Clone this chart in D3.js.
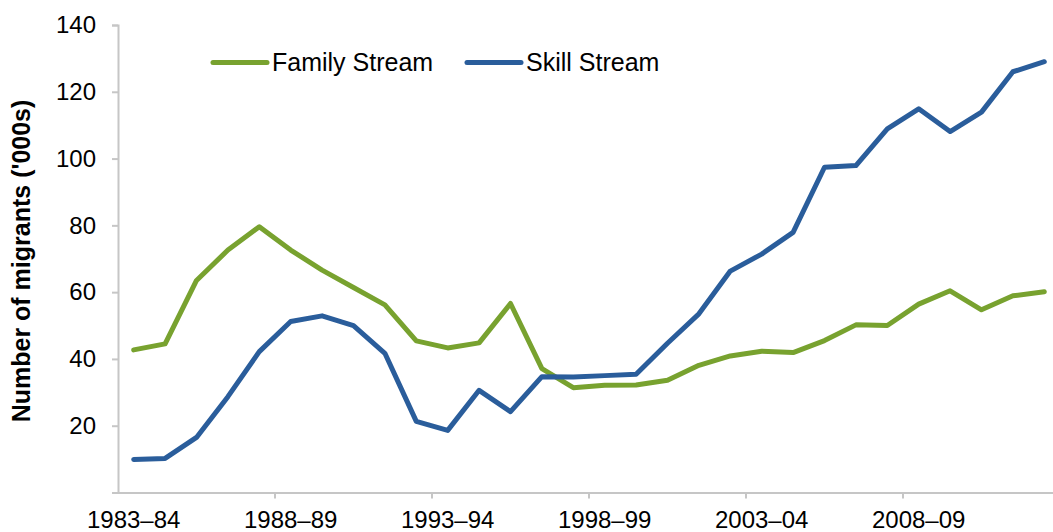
<!DOCTYPE html>
<html>
<head>
<meta charset="utf-8">
<script src="https://cdn.jsdelivr.net/npm/d3@7"></script>
<style>
  body { margin: 0; background: #fff; }
  svg { display: block; font-family: "Liberation Sans", Arial, sans-serif; }
</style>
</head>
<body>
<svg id="chart"></svg>
<script>
// financial years, one per point
const years = [
  "1983–84", "1984–85", "1985–86", "1986–87", "1987–88",
  "1988–89", "1989–90", "1990–91", "1991–92", "1992–93",
  "1993–94", "1994–95", "1995–96", "1996–97", "1997–98",
  "1998–99", "1999–00", "2000–01", "2001–02", "2002–03",
  "2003–04", "2004–05", "2005–06", "2006–07", "2007–08",
  "2008–09", "2009–10", "2010–11", "2011–12", "2012–13"
];

// thousands of migrants
const familyStream = [
  42.7, 44.5, 63.5, 72.6, 79.6, 72.6, 66.6, 61.4, 56.2, 45.4,
  43.3, 44.8, 56.6, 37.1, 31.4, 32.1, 32.2, 33.6, 38.1, 40.9,
  42.3, 41.9, 45.5, 50.2, 50.0, 56.4, 60.4, 54.7, 58.9, 60.1
];
const skillStream = [
  9.9, 10.2, 16.5, 28.7, 42.2, 51.2, 52.9, 50.0, 41.7, 21.3,
  18.6, 30.6, 24.2, 34.7, 34.6, 35.0, 35.4, 44.7, 53.5, 66.3,
  71.4, 77.9, 97.4, 97.9, 108.9, 114.9, 108.1, 113.9, 126.0, 129.0
];

const xLabels = ["1983–84", "1988–89", "1993–94", "1998–99", "2003–04", "2008–09"];
const yTicks = [0, 20, 40, 60, 80, 100, 120, 140];

const width = 1053;
const height = 532;
const plotLeft = 118, plotRight = 1060, plotTop = 25, plotBottom = 492.5;
const axisColor = "#c6c6c6";

const series = [
  { name: "Family Stream", values: familyStream, color: "#78a22f" },
  { name: "Skill Stream", values: skillStream, color: "#2a5d9b" }
];

const svg = d3.select("#chart").attr("width", width).attr("height", height);

const x = d3.scaleBand().domain(years).range([plotLeft, plotRight]).paddingInner(0).paddingOuter(0);
const y = d3.scaleLinear().domain([0, 140]).range([plotBottom, plotTop]);

// Y axis
const yAxis = svg.append("g")
  .attr("transform", `translate(${plotLeft},0)`)
  .call(d3.axisLeft(y).tickValues(yTicks).tickSize(6).tickPadding(16)
    .tickFormat(d => d === 0 ? "" : d));
yAxis.select(".domain").attr("stroke", axisColor).attr("stroke-width", 2);
yAxis.selectAll(".tick line").attr("stroke", axisColor).attr("stroke-width", 2);
yAxis.selectAll(".tick text").attr("font-size", 24).attr("fill", "#000")
  .attr("font-family", "Liberation Sans, Arial, sans-serif");

// X axis: labels at category centres, ticks at left edge of every 5th category
const xAxis = svg.append("g")
  .attr("transform", `translate(0,${plotBottom})`)
  .call(d3.axisBottom(x).tickValues(xLabels).tickSize(0).tickPadding(18));
xAxis.select(".domain").attr("stroke", axisColor).attr("stroke-width", 2);
xAxis.selectAll(".tick text").attr("font-size", 24).attr("fill", "#000")
  .attr("font-family", "Liberation Sans, Arial, sans-serif");
xAxis.selectAll(".tickmark")
  .data(xLabels.slice(1))
  .enter()
  .append("line")
  .attr("x1", d => x(d)).attr("x2", d => x(d))
  .attr("y1", 0).attr("y2", 6)
  .attr("stroke", axisColor).attr("stroke-width", 2);

// Y title
svg.append("text")
  .attr("transform", "translate(30,261) rotate(-90)")
  .attr("text-anchor", "middle")
  .attr("font-size", 25)
  .attr("font-weight", "bold")
  .text("Number of migrants ('000s)");

// Lines
const line = d3.line()
  .x((d, i) => x(years[i]) + x.bandwidth() / 2)
  .y(d => y(d));

svg.selectAll(".series")
  .data(series)
  .enter()
  .append("path")
  .attr("class", "series")
  .attr("fill", "none")
  .attr("stroke", d => d.color)
  .attr("stroke-width", 5)
  .attr("stroke-linejoin", "round")
  .attr("stroke-linecap", "round")
  .attr("d", d => line(d.values));

// Legend
const legendX = [213, 467];
const legend = svg.selectAll(".legend")
  .data(series)
  .enter()
  .append("g")
  .attr("class", "legend")
  .attr("transform", (d, i) => `translate(${legendX[i]},62.5)`);
legend.append("line")
  .attr("x1", 0).attr("x2", 54)
  .attr("stroke", d => d.color)
  .attr("stroke-width", 5)
  .attr("stroke-linecap", "round");
legend.append("text")
  .attr("x", 59)
  .attr("dy", "0.35em")
  .attr("font-size", 25)
  .text(d => d.name);
</script>
</body>
</html>
